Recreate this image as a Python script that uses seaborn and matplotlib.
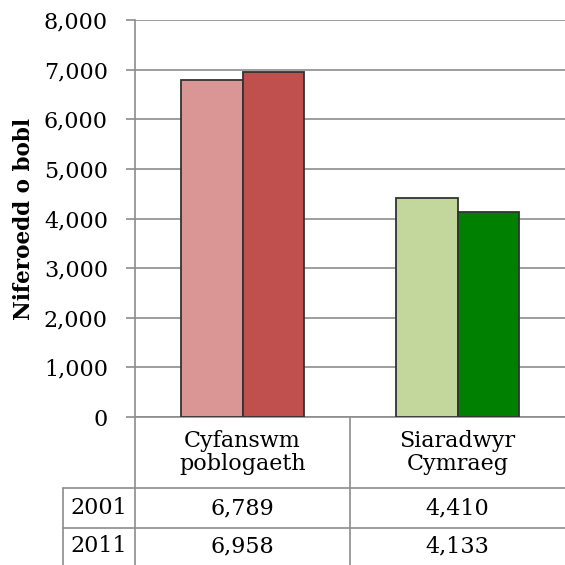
import pandas as pd
import seaborn as sns
import matplotlib.pyplot as plt
from matplotlib.ticker import FuncFormatter

categories = ['Cyfanswm\npoblogaeth', 'Siaradwyr\nCymraeg']
years = ['2001', '2011']
values_2001 = [6789, 4410]
values_2011 = [6958, 4133]
bar_colors = [['#d99694', '#c0504d'], ['#c3d69b', '#008000']]

df = pd.DataFrame({
    'category': categories * 2,
    'year': [years[0]] * 2 + [years[1]] * 2,
    'value': values_2001 + values_2011,
})

sns.set_style('white')
plt.rcParams['font.family'] = ['DejaVu Serif']
plt.rcParams['text.color'] = 'black'

W = 565
fig = plt.figure(figsize=(5.65, 5.65), dpi=100)
ax = fig.add_axes([135 / W, (W - 417) / W, (W - 135) / W, (417 - 20) / W])

sns.barplot(data=df, x='category', y='value', hue='year', ax=ax,
            width=0.57, edgecolor='#333333', linewidth=1.3, legend=False,
            zorder=3)

# colour each bar: hue order first, then category
for i, cont in enumerate(ax.containers):
    for j, bar in enumerate(cont):
        bar.set_facecolor(bar_colors[j][i])

ax.set_xlim(-0.5, 1.5)
ax.set_ylim(0, 8000)
ax.set_yticks(range(0, 8001, 1000))
ax.yaxis.set_major_formatter(FuncFormatter(lambda v, p: f'{int(v):,}'))
ax.grid(axis='y', color='#8c8c8c', linewidth=1.2, zorder=0)
ax.tick_params(axis='y', length=6.5, width=1.2, color='#8c8c8c', labelsize=16,
               labelcolor='black', left=True, pad=13)
ax.set_xticks([])
ax.set_xlabel('')
ax.set_ylabel('Niferoedd o bobl', fontsize=15.5, fontweight='bold', labelpad=6,
              color='black')
for s in ['top', 'right']:
    ax.spines[s].set_visible(False)
for s in ['left', 'bottom']:
    ax.spines[s].set_color('#8c8c8c')
    ax.spines[s].set_linewidth(1.2)

# data table below the axes
lc = '#8c8c8c'
tf = ax.get_xaxis_transform()
y_rows = [0, -71 / 397, -111 / 397, -148 / 397]
x_left_year = -0.5 - 72 / 215
for yv in y_rows[1:3]:
    ax.plot([x_left_year, 1.5], [yv, yv], color=lc, lw=1.2, transform=tf,
            clip_on=False)
ax.plot([-0.5, -0.5], [0, y_rows[3]], color=lc, lw=1.2, transform=tf, clip_on=False)
ax.plot([0.5, 0.5], [0, y_rows[3]], color=lc, lw=1.2, transform=tf, clip_on=False)
ax.plot([x_left_year, x_left_year], [y_rows[1], y_rows[3]], color=lc, lw=1.2,
        transform=tf, clip_on=False)

for j, cat in enumerate(categories):
    ax.text(j, (y_rows[0] + y_rows[1]) / 2, cat, ha='center', va='center',
            fontsize=16, transform=tf, linespacing=1.1)
rows = [values_2001, values_2011]
for r, (yr, vals) in enumerate(zip(years, rows)):
    yc = (y_rows[r + 1] + y_rows[r + 2]) / 2
    ax.text((x_left_year - 0.5) / 2, yc, yr, ha='center', va='center',
            fontsize=16, transform=tf)
    for j, v in enumerate(vals):
        ax.text(j, yc, f'{v:,}', ha='center', va='center', fontsize=16,
                transform=tf)

fig.savefig('out.png', dpi=100)
